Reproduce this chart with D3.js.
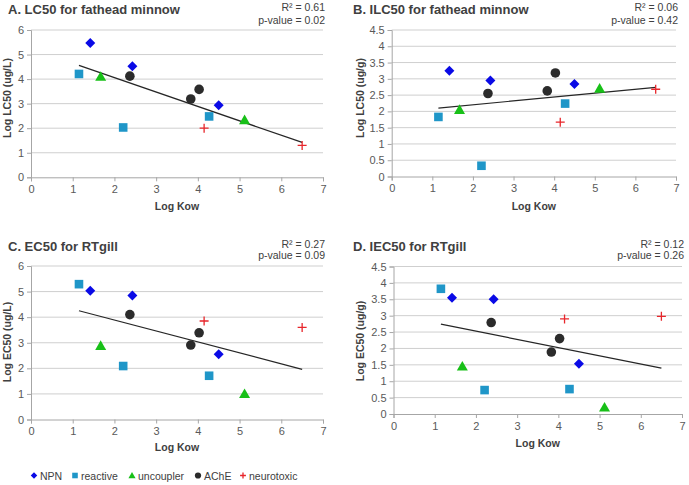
<!DOCTYPE html>
<html>
<head>
<meta charset="utf-8">
<script src="https://cdn.jsdelivr.net/npm/d3@7"></script>
<style>
  html, body { margin: 0; padding: 0; background: #fff; }
  svg text { font-family: "Liberation Sans", Arial, sans-serif; }
</style>
</head>
<body>
<svg id="chart" width="689" height="485"></svg>
<script>
// ---- data ----
const classes = ["NPN", "reactive", "uncoupler", "AChE", "neurotoxic"];
const classColors = ["#0a0ae6", "#1f96c8", "#18c018", "#2b2b2b", "#e8262b"];

// Log Kow per compound, grouped by class
const kowNPN = [1.42, 2.43, 4.50];
const kowReactive = [1.15, 2.21, 4.27];
const kowUncoupler = [1.67, 5.12];
const kowAChE = [2.37, 3.83, 4.03];
const kowNeuro = [4.15, 6.50];

// Panel values, ordered like classes
const lc50Fathead = [[5.47, 4.52, 2.93], [4.21, 2.03, 2.48], [4.10, 2.33], [4.12, 3.19, 3.58], [2.00, 1.30]];
const ilc50Fathead = [[3.25, 2.95, 2.84], [1.83, 0.33, 2.24], [2.05, 2.70], [2.55, 2.63, 3.18], [1.67, 2.68]];
const ec50RTgill = [[5.03, 4.85, 2.55], [5.29, 2.09, 1.71], [2.88, 1.00], [4.10, 2.91, 3.39], [3.85, 3.60]];
const iec50RTgill = [[3.55, 3.50, 1.53], [3.82, 0.73, 0.76], [1.45, 0.20], [2.79, 1.89, 2.30], [2.90, 2.98]];

// Trend lines [[x1, y1], [x2, y2]]
const trendA = [[1.15, 4.56], [6.50, 1.42]];
const trendB = [[1.15, 2.10], [6.50, 2.74]];
const trendC = [[1.15, 4.25], [6.50, 1.96]];
const trendD = [[1.15, 2.74], [6.50, 1.40]];

const titles = ["A. LC50 for fathead minnow", "B. ILC50 for fathead minnow", "C. EC50 for RTgill", "D. IEC50 for RTgill"];
const yTitles = ["Log LC50 (ug/L)", "Log LC50 (ug/g)", "Log EC50 (ug/L)", "Log EC50 (ug/g)"];
const rSquared = ["0.61", "0.06", "0.27", "0.12"];
const pValues = ["0.02", "0.42", "0.09", "0.26"];
const yMaxes = [6, 4.5, 6, 4.5];
const yTickSteps = [1, 0.5, 1, 0.5];
const xTicks = [0, 1, 2, 3, 4, 5, 6, 7];

// ---- layout ----
const kows = [kowNPN, kowReactive, kowUncoupler, kowAChE, kowNeuro];
const panelVals = [lc50Fathead, ilc50Fathead, ec50RTgill, iec50RTgill];
const trends = [trendA, trendB, trendC, trendD];
const panels = [
  { left: 31, right: 323, top: 30, bottom: 177.3, ox: 0, oy: 0, titleY: 14, rY: 11, pY: 24, yTitleX: 11, yTitleY: 98, xTitleY: 210 },
  { left: 391.7, right: 676, top: 30, bottom: 176.5, ox: 345, oy: 0, titleY: 14, rY: 11, pY: 24, yTitleX: 364, yTitleY: 98, xTitleY: 210 },
  { left: 31, right: 323, top: 266, bottom: 419.5, ox: 0, oy: 220, titleY: 251, rY: 248, pY: 259, yTitleX: 11, yTitleY: 342, xTitleY: 451 },
  { left: 393.5, right: 682, top: 266.5, bottom: 414, ox: 345, oy: 220, titleY: 251, rY: 248, pY: 259, yTitleX: 364, yTitleY: 341, xTitleY: 447 }
];

const svg = d3.select("#chart");

function markerPath(type) {
  const p = d3.path();
  if (type === 0) { // diamond
    const h = 5;
    p.moveTo(0, -h); p.lineTo(h, 0); p.lineTo(0, h); p.lineTo(-h, 0); p.closePath();
  } else if (type === 1) { // square
    const h = 4.3;
    p.rect(-h, -h, 2 * h, 2 * h);
  } else if (type === 2) { // triangle
    const s = 5.5;
    p.moveTo(0, -s); p.lineTo(s, s * 0.75); p.lineTo(-s, s * 0.75); p.closePath();
  } else if (type === 3) { // circle
    p.arc(0, 0, 4.8, 0, 2 * Math.PI);
  }
  return p.toString();
}

function drawMarker(g, type, cx, cy, scale) {
  const s = scale || 1;
  if (type === 4) {
    const h = 4.5 * s;
    g.append("path")
      .attr("d", `M${cx - h},${cy}H${cx + h}M${cx},${cy - h}V${cy + h}`)
      .attr("stroke", classColors[4]).attr("stroke-width", 1.3).attr("fill", "none");
  } else {
    g.append("path")
      .attr("d", markerPath(type))
      .attr("transform", `translate(${cx},${cy}) scale(${s})`)
      .attr("fill", classColors[type]);
  }
}

panels.forEach((pn, i) => {
  const x = d3.scaleLinear().domain([0, 7]).range([pn.left, pn.right]);
  const y = d3.scaleLinear().domain([0, yMaxes[i]]).range([pn.bottom, pn.top]);
  const yTicks = d3.range(0, yMaxes[i] + 1e-9, yTickSteps[i]);
  const g = svg.append("g");

  // gridlines
  g.append("g").selectAll("line").data(yTicks.filter(t => t > 0)).join("line")
    .attr("x1", pn.left).attr("x2", pn.right)
    .attr("y1", d => y(d)).attr("y2", d => y(d))
    .attr("stroke", "#cfcfcf").attr("stroke-width", 1);

  // y axis
  const yAxis = g.append("g").attr("transform", `translate(${pn.left},0)`)
    .call(d3.axisLeft(y).tickValues(yTicks).tickSize(4).tickPadding(3)
      .tickFormat(d => d3.format("~g")(d)));
  // x axis
  const xAxis = g.append("g").attr("transform", `translate(0,${pn.bottom})`)
    .call(d3.axisBottom(x).tickValues(xTicks).tickSize(4).tickPadding(4)
      .tickFormat(d3.format("d")));
  [yAxis, xAxis].forEach(ax => {
    ax.select(".domain").attr("stroke", "#a6a6a6");
    ax.selectAll(".tick line").attr("stroke", "#a6a6a6");
    ax.selectAll(".tick text").attr("fill", "#595959").style("font-size", "11px")
      .style("font-family", "'Liberation Sans', Arial, sans-serif");
  });

  // trend line
  g.append("line")
    .attr("x1", x(trends[i][0][0])).attr("y1", y(trends[i][0][1]))
    .attr("x2", x(trends[i][1][0])).attr("y2", y(trends[i][1][1]))
    .attr("stroke", "#262626").attr("stroke-width", 1.2);

  // points
  panelVals[i].forEach((vals, c) => {
    vals.forEach((v, k) => drawMarker(g, c, x(kows[c][k]), y(v)));
  });

  // titles
  g.append("text").attr("x", pn.ox + 8).attr("y", pn.titleY)
    .attr("font-size", "13px").attr("font-weight", "bold").attr("fill", "#404040")
    .text(titles[i]);
  g.append("text").attr("x", pn.right + 2).attr("y", pn.rY).attr("text-anchor", "end")
    .attr("font-size", "10.5px").attr("fill", "#404040")
    .text("R² = " + rSquared[i]);
  g.append("text").attr("x", pn.right + 2).attr("y", pn.pY).attr("text-anchor", "end")
    .attr("font-size", "10.5px").attr("fill", "#404040")
    .text("p-value = " + pValues[i]);
  g.append("text").attr("x", (pn.left + pn.right) / 2).attr("y", pn.xTitleY)
    .attr("text-anchor", "middle").attr("font-size", "10.5px").attr("font-weight", "bold")
    .attr("fill", "#404040").text("Log Kow");
  g.append("text").attr("transform", `translate(${pn.yTitleX},${pn.yTitleY}) rotate(-90)`)
    .attr("text-anchor", "middle").attr("font-size", "10.5px").attr("font-weight", "bold")
    .attr("fill", "#404040").text(yTitles[i]);
});

// legend
const legendX = [34, 75, 132, 198, 243];
const legendY = 475.5;
const lg = svg.append("g");
classes.forEach((c, i) => {
  drawMarker(lg, i, legendX[i], legendY, 0.65);
  lg.append("text").attr("x", legendX[i] + 6).attr("y", legendY + 4)
    .attr("font-size", "10.5px").attr("fill", "#404040").text(c);
});
</script>
</body>
</html>
